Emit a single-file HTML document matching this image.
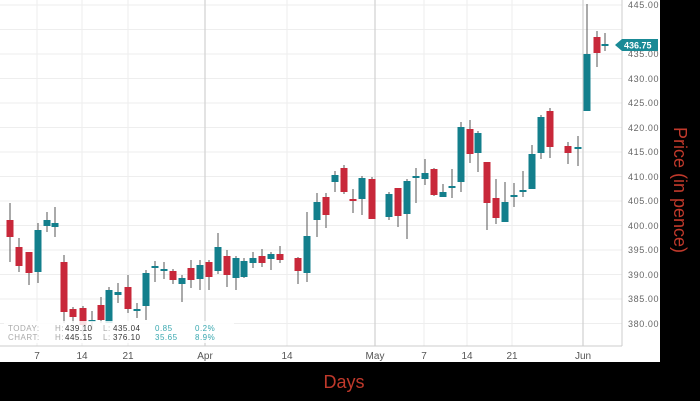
<!DOCTYPE html>
<html><head><meta charset="utf-8"><style>
html,body{margin:0;padding:0;background:#000;width:700px;height:401px;overflow:hidden}
svg{display:block;font-family:"Liberation Sans",sans-serif}
</style></head><body>
<svg width="700" height="401" viewBox="0 0 700 401">
<rect x="0" y="0" width="700" height="401" fill="#000"/>
<rect x="0" y="0" width="660" height="362" fill="#fff"/>
<g stroke="#eeeeee" stroke-width="1">
<line x1="0" y1="5" x2="622" y2="5"/><line x1="0" y1="29.5" x2="622" y2="29.5"/><line x1="0" y1="54" x2="622" y2="54"/><line x1="0" y1="78.5" x2="622" y2="78.5"/><line x1="0" y1="103" x2="622" y2="103"/><line x1="0" y1="127.5" x2="622" y2="127.5"/><line x1="0" y1="152" x2="622" y2="152"/><line x1="0" y1="176.5" x2="622" y2="176.5"/><line x1="0" y1="201" x2="622" y2="201"/><line x1="0" y1="225.5" x2="622" y2="225.5"/><line x1="0" y1="250" x2="622" y2="250"/><line x1="0" y1="274.5" x2="622" y2="274.5"/><line x1="0" y1="299" x2="622" y2="299"/><line x1="0" y1="323.5" x2="622" y2="323.5"/>
<line x1="37" y1="0" x2="37" y2="346"/><line x1="82" y1="0" x2="82" y2="346"/><line x1="128" y1="0" x2="128" y2="346"/><line x1="287" y1="0" x2="287" y2="346"/><line x1="424" y1="0" x2="424" y2="346"/><line x1="467" y1="0" x2="467" y2="346"/><line x1="512" y1="0" x2="512" y2="346"/>
</g>
<g stroke="#d0d0d0" stroke-width="1.2">
<line x1="205" y1="0" x2="205" y2="346"/><line x1="375" y1="0" x2="375" y2="346"/><line x1="583" y1="0" x2="583" y2="346"/>
</g>
<line x1="622" y1="0" x2="622" y2="346" stroke="#ccc"/>
<line x1="0" y1="346" x2="622" y2="346" stroke="#ccc"/>
<g id="c"></g>
<rect x="4" y="321" width="230" height="22" fill="#fff" opacity="0.85"/>
<g font-size="8" letter-spacing="0.5">
<text x="8" y="331" fill="#aaa">TODAY:</text><text x="8" y="340" fill="#aaa">CHART:</text>
<text x="55" y="331" fill="#aaa">H:</text><text x="65" y="331" fill="#333">439.10</text>
<text x="55" y="340" fill="#aaa">H:</text><text x="65" y="340" fill="#333">445.15</text>
<text x="103" y="331" fill="#aaa">L:</text><text x="113" y="331" fill="#333">435.04</text>
<text x="103" y="340" fill="#aaa">L:</text><text x="113" y="340" fill="#333">376.10</text>
<text x="155" y="331" fill="#3aa8b0">0.85</text><text x="195" y="331" fill="#3aa8b0">0.2%</text>
<text x="155" y="340" fill="#3aa8b0">35.65</text><text x="195" y="340" fill="#3aa8b0">8.9%</text>
</g>
<g font-size="9" fill="#666" letter-spacing="0.6">
<text x="628" y="8">445.00</text><text x="628" y="57">435.00</text><text x="628" y="82">430.00</text><text x="628" y="106">425.00</text><text x="628" y="131">420.00</text><text x="628" y="155">415.00</text><text x="628" y="180">410.00</text><text x="628" y="204">405.00</text><text x="628" y="229">400.00</text><text x="628" y="253">395.00</text><text x="628" y="278">390.00</text><text x="628" y="302">385.00</text><text x="628" y="327">380.00</text>
</g>
<polygon points="615,45 622,39 658,39 658,51 622,51" fill="#1a8a96"/>
<text x="624" y="48.5" font-size="9" font-weight="bold" fill="#fff">436.75</text>
<g font-size="10" fill="#555" text-anchor="middle">
<text x="37" y="359">7</text><text x="82" y="359">14</text><text x="128" y="359">21</text><text x="205" y="359">Apr</text><text x="287" y="359">14</text><text x="375" y="359">May</text><text x="424" y="359">7</text><text x="467" y="359">14</text><text x="512" y="359">21</text><text x="583" y="359">Jun</text>
</g>
<text x="344" y="388" font-size="18" fill="#c0392b" text-anchor="middle">Days</text>
<text transform="translate(674,190) rotate(90)" font-size="18" fill="#c0392b" text-anchor="middle">Price (in pence)</text>
</svg>
<script>
var d=[[10,203,262,220,237,'r'],[19,238,272,247,266,'r'],[29,252,285,252,273,'r'],[38,223,283,230,272,'t'],[47,212,232,220,226,'t'],[55,207,237,223,227,'t'],[64,255,323,262,312,'r'],[73,307,323,309,317,'r'],[83,306,335,308,325,'r'],[92,311,330,320,320,'t'],[101,297,323,305,320,'r'],[109,287,323,290,323,'t'],[118,283,303,292,295,'t'],[128,275,313,287,309,'r'],[137,303,318,309,311,'t'],[146,270,320,273,306,'t'],[155,261,282,266,268,'t'],[164,262,279,269,271,'t'],[173,269,284,271,280,'r'],[182,275,302,278,284,'t'],[191,260,288,268,280,'r'],[200,260,290,265,279,'t'],[209,260,290,262,277,'r'],[218,233,274,247,271,'t'],[227,250,287,256,275,'r'],[236,256,290,258,278,'t'],[244,258,278,261,277,'t'],[253,252,268,258,263,'t'],[262,249,267,256,263,'r'],[271,252,270,254,259,'t'],[280,246,263,254,260,'r'],[298,257,284,258,271,'r'],[307,212,282,236,273,'t'],[317,193,237,202,220,'t'],[326,193,228,197,215,'r'],[335,171,192,175,182,'t'],[344,165,194,168,192,'r'],[353,189,213,199,201,'r'],[362,176,215,178,199,'t'],[372,177,219,179,219,'r'],[389,192,220,194,217,'t'],[398,188,227,188,216,'r'],[407,179,239,181,214,'t'],[416,168,203,176,178,'t'],[425,159,185,173,179,'t'],[434,168,196,169,195,'r'],[443,184,197,192,197,'t'],[452,169,198,186,188,'t'],[461,122,192,127,182,'t'],[470,120,163,129,154,'r'],[478,131,172,133,153,'t'],[487,162,230,162,203,'r'],[496,179,224,198,218,'r'],[505,182,222,202,222,'t'],[514,183,207,195,197,'t'],[523,171,197,190,192,'t'],[532,145,189,154,189,'t'],[541,115,159,117,153,'t'],[550,108,158,111,147,'r'],[568,142,164,146,153,'r'],[578,136,166,147,149,'t'],[587,4,111,54,111,'t'],[597,31,67,37,53,'r'],[605,33,51,44,46,'t']];
var s='';d.forEach(function(c){var col=c[5]=='r'?'#c8283a':'#137f8c';var h=Math.max(2,c[4]-c[3]);
s+='<line x1="'+c[0]+'" y1="'+c[1]+'" x2="'+c[0]+'" y2="'+c[2]+'" stroke="#555" stroke-width="1"/>';
s+='<rect x="'+(c[0]-3.5)+'" y="'+c[3]+'" width="7" height="'+h+'" fill="'+col+'"/>';});
document.getElementById('c').innerHTML=s;
</script>
</body></html>
